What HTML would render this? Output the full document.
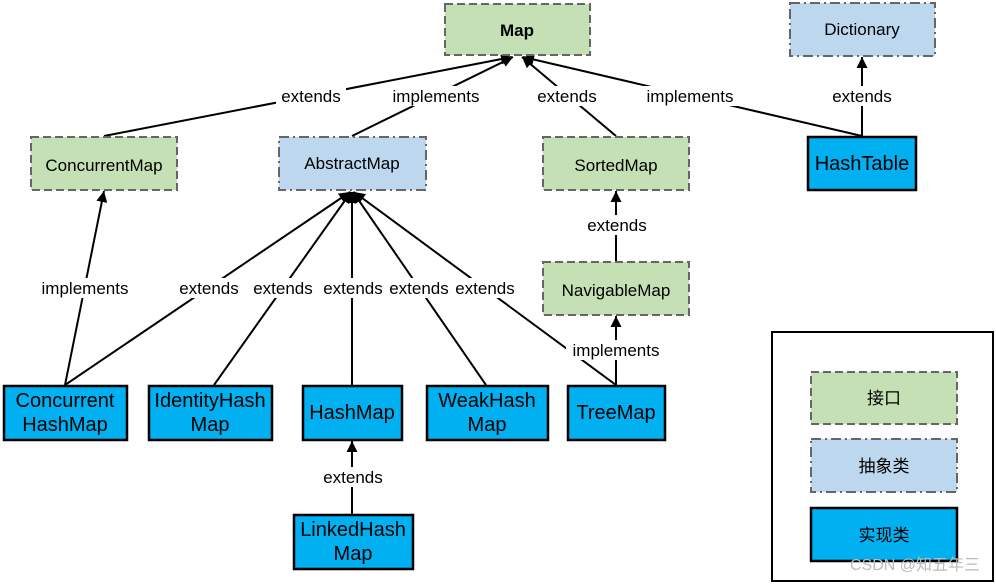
<!DOCTYPE html>
<html><head><meta charset="utf-8"><style>
html,body{margin:0;padding:0;background:#fff;}
text{font-family:"Liberation Sans","Noto Sans CJK SC",sans-serif;fill:#000;}
</style></head><body>
<svg width="996" height="583" viewBox="0 0 996 583" xmlns="http://www.w3.org/2000/svg">
<defs>
<marker id="a" viewBox="0 0 10 10" refX="10" refY="5" markerWidth="11" markerHeight="11" orient="auto" markerUnits="userSpaceOnUse">
<path d="M0,0 L10,5 L0,10 z" fill="#000"/>
</marker>
</defs>
<g stroke="#000" stroke-width="2" fill="none">
<line x1="104" y1="136" x2="512" y2="57" marker-end="url(#a)"/>
<line x1="352" y1="136" x2="513" y2="57" marker-end="url(#a)"/>
<line x1="616" y1="136" x2="522" y2="57" marker-end="url(#a)"/>
<line x1="862" y1="136" x2="523" y2="57" marker-end="url(#a)"/>
<line x1="862" y1="136" x2="862" y2="57" marker-end="url(#a)"/>
<line x1="65" y1="385" x2="350" y2="192" marker-end="url(#a)"/>
<line x1="214" y1="385" x2="351" y2="192" marker-end="url(#a)"/>
<line x1="352" y1="385" x2="352" y2="192" marker-end="url(#a)"/>
<line x1="486" y1="385" x2="353" y2="192" marker-end="url(#a)"/>
<line x1="616" y1="385" x2="354" y2="192" marker-end="url(#a)"/>
<line x1="65" y1="385" x2="104" y2="191" marker-end="url(#a)"/>
<line x1="616" y1="261" x2="616" y2="191" marker-end="url(#a)"/>
<line x1="616" y1="385" x2="616" y2="316" marker-end="url(#a)"/>
<line x1="352" y1="514" x2="352" y2="441" marker-end="url(#a)"/>
</g>
<g font-size="17" text-anchor="middle">
<g fill="#fff" stroke="none">
<rect x="276" y="86" width="70" height="20"/><rect x="386" y="86" width="100" height="20"/>
<rect x="533" y="86" width="68" height="20"/><rect x="640" y="86" width="100" height="20"/>
<rect x="828" y="86" width="68" height="20"/>
<rect x="35" y="278" width="100" height="20"/><rect x="175" y="278" width="68" height="20"/>
<rect x="249" y="278" width="68" height="20"/><rect x="320" y="278" width="66" height="20"/>
<rect x="386" y="278" width="66" height="20"/><rect x="452" y="278" width="66" height="20"/>
<rect x="583" y="215" width="68" height="20"/><rect x="566" y="340" width="100" height="20"/>
<rect x="319" y="467" width="68" height="20"/>
</g>
<text x="311" y="102">extends</text><text x="436" y="102">implements</text>
<text x="567" y="102">extends</text><text x="690" y="102">implements</text>
<text x="862" y="102">extends</text>
<text x="85" y="294">implements</text><text x="209" y="294">extends</text>
<text x="283" y="294">extends</text><text x="353" y="294">extends</text>
<text x="419" y="294">extends</text><text x="485" y="294">extends</text>
<text x="617" y="231">extends</text><text x="616" y="356">implements</text>
<text x="353" y="483">extends</text>
</g>
<g stroke="#666" stroke-width="2" stroke-dasharray="8,4" fill="#c5e0b4">
<rect x="445" y="4" width="145" height="51"/>
<rect x="31" y="137" width="146" height="53"/>
<rect x="543" y="137" width="146" height="53"/>
<rect x="543" y="262" width="146" height="53"/>
<rect x="811" y="372" width="146" height="52"/>
</g>
<g stroke="#666" stroke-width="2" stroke-dasharray="10,4,2,4" fill="#bdd7ee">
<rect x="790" y="3" width="145" height="53"/>
<rect x="279" y="137" width="147" height="53"/>
<rect x="811" y="439" width="146" height="53"/>
</g>
<g stroke="#000" stroke-width="2.5" fill="#00b0f0">
<rect x="808" y="137" width="108" height="53"/>
<rect x="4" y="386" width="123" height="54"/>
<rect x="149" y="386" width="123" height="54"/>
<rect x="303" y="386" width="99" height="54"/>
<rect x="427" y="386" width="121" height="54"/>
<rect x="568" y="386" width="97" height="54"/>
<rect x="294" y="515" width="119" height="54"/>
<rect x="811" y="508" width="146" height="53"/>
</g>
<rect x="772" y="332" width="221" height="249" fill="none" stroke="#000" stroke-width="2"/>
<g font-size="17" text-anchor="middle">
<text x="517" y="36" font-weight="bold">Map</text>
<text x="862" y="35">Dictionary</text>
<text x="104" y="171">ConcurrentMap</text>
<text x="352" y="169">AbstractMap</text>
<text x="616" y="171">SortedMap</text>
<text x="616" y="296">NavigableMap</text>
</g>
<g font-size="17" text-anchor="middle">
<text x="884" y="404">接口</text>
<text x="884" y="472">抽象类</text>
<text x="884" y="541">实现类</text>
</g>
<g font-size="20" text-anchor="middle">
<text x="862" y="170">HashTable</text>
<text x="65" y="407">Concurrent</text><text x="65" y="431">HashMap</text>
<text x="210" y="407">IdentityHash</text><text x="210" y="431">Map</text>
<text x="352" y="419">HashMap</text>
<text x="487" y="407">WeakHash</text><text x="487" y="431">Map</text>
<text x="616" y="419">TreeMap</text>
<text x="353" y="536">LinkedHash</text><text x="353" y="560">Map</text>
</g>
<text x="915" y="570" font-size="16" text-anchor="middle" style="fill:#bbb">CSDN @知五年三</text>
</svg>
</body></html>
